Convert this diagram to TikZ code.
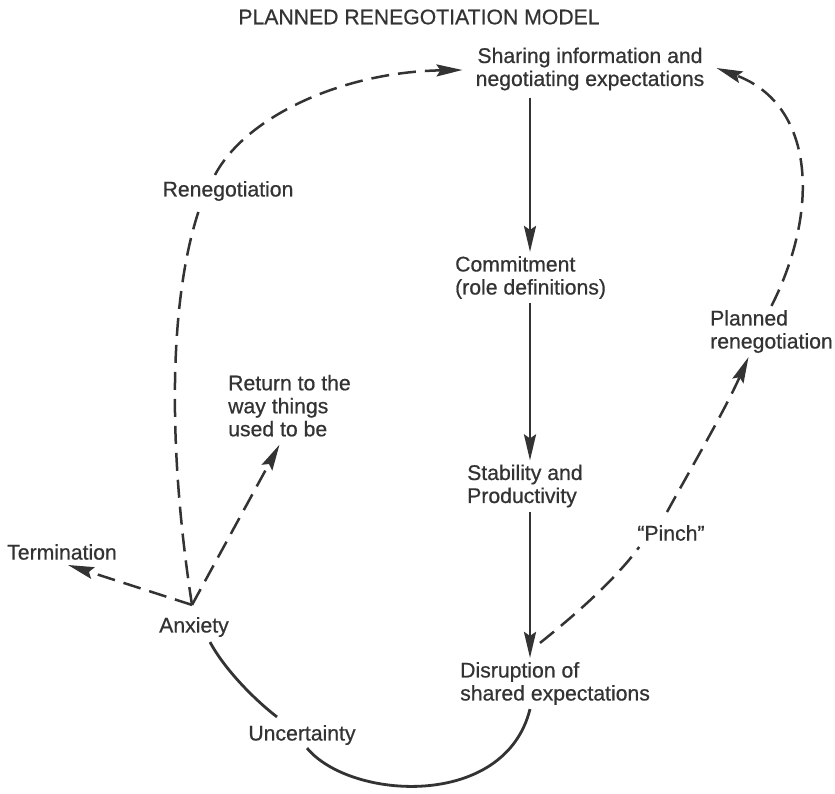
\documentclass[tikz,border=0pt]{standalone}
\usepackage{fontspec}
\setmainfont[FakeBold=0.6]{Liberation Sans}
\usetikzlibrary{arrows.meta,calc}
\definecolor{ink}{HTML}{333333}
\begin{document}
\begin{tikzpicture}[x=1pt,y=-1pt,
  lbl/.style={font=\fontsize{21.2}{23}\selectfont, text=ink, inner sep=4pt, align=left},
  tip/.style={-{Stealth[length=26pt,width=12pt,inset=4pt]}},
  flow/.style={draw=ink, line width=2.8pt, tip},
  link/.style={draw=ink, line width=2.8pt},
  dashlink/.style={draw=ink, line width=2.5pt, dash pattern=on 18pt off 9pt},
  dashflow/.style={dashlink, tip},
]
\useasboundingbox (0,0) rectangle (835,793);
\fill[white] (0,0) rectangle (835,793);

% labels
\node[lbl] (title) at (419,17) {PLANNED RENEGOTIATION MODEL};
\node[lbl, align=center] (share) at (590,69) {Sharing information and\\negotiating expectations};
\node[lbl, anchor=west] (commit) at (451,277.5) {Commitment\\(role definitions)};
\node[lbl, anchor=west] (stab) at (463,486) {Stability and\\Productivity};
\node[lbl, anchor=west] (disr) at (456,683.5) {Disruption of\\shared expectations};
\node[lbl, anchor=west] (planned) at (706,331.5) {Planned\\renegotiation};
\node[lbl] (reneg) at (228,191) {Renegotiation};
\node[lbl, anchor=west] (ret) at (224,405.7) {Return to the\\way things\\used to be};
\node[lbl] (term) at (62,552) {Termination};
\node[lbl] (anx) at (194,627) {Anxiety};
\node[lbl] (pinch) at (671,533) {``Pinch''};
\node[lbl] (unc) at (302,735) {Uncertainty};

% helper points
\coordinate (axis) at (530,0);
\coordinate (hub) at ($(anx.north)+(-2,-8)$);

% main cycle
\draw[flow, shorten <=3pt] (share.south -| axis) -- (commit.north -| axis);
\draw[flow] (commit.south -| axis) -- (stab.north -| axis);
\draw[flow] (stab.south -| axis) -- (disr.north -| axis);

% disruption -> uncertainty -> anxiety
\draw[link] (disr.south -| axis) .. controls (505,810) and (350,800) .. ($(unc.south)+(5,-1)$);
\draw[link] ($(unc.north)+(-25,-4)$) .. controls (255,700) and (225,670) .. ($(anx.south)+(16,1)$);

% pinch -> planned renegotiation -> sharing
\draw[dashlink] ($(disr.north -| axis)+(10,-15)$) .. controls (575,615) and (615,580) .. ($(pinch.south west)+(6,2)$);
\draw[dashflow] ($(pinch.north)+(-4,-9)$) .. controls (690,470) and (725,410) .. ($(planned.south)+(-23,0)$);
\draw[dashflow] (planned.north) .. controls (820,210) and (815,105) .. ($(share.east)+(8,-1)$);

% anxiety branches
\draw[dashlink] (hub) .. controls (168,450) and (168,300) .. ($(reneg.south)+(-28,2)$);
\draw[dashflow] ($(reneg.north)+(-13,-2)$) .. controls (245,118) and (340,72) .. ($(share.west)+(-9,1)$);
\draw[dashflow] (hub) -- ($(term.south)+(6,1)$);
\draw[dashflow] (hub) -- ($(ret.south)+(-10,4)$);
\end{tikzpicture}
\end{document}
